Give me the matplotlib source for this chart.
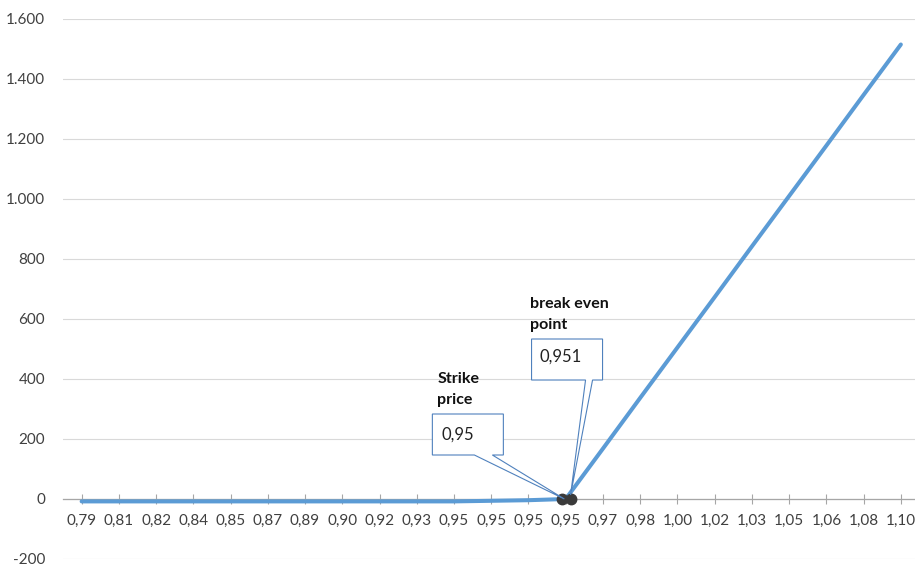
import matplotlib
matplotlib.use("Agg")
import matplotlib.pyplot as plt
import matplotlib.transforms as mtransforms
from matplotlib.patches import Polygon
from matplotlib.ticker import FuncFormatter

plt.rcParams['font.family'] = ['Lato', 'DejaVu Sans']

# ---- data ----
categories = ['0,79', '0,81', '0,82', '0,84', '0,85', '0,87', '0,89', '0,90',
              '0,92', '0,93', '0,95', '0,95', '0,95', '0,95', '0,97', '0,98',
              '1,00', '1,02', '1,03', '1,05', '1,06', '1,08', '1,10']
payoff = [-8, -8, -8, -8, -8, -8, -8, -8, -8, -8, -8, -6, -4, 0,
          168, 337, 505, 673, 842, 1010, 1178, 1347, 1515]
marker_x = [12.91, 13.13]
marker_y = [0, 0]
marker_values = ['0,95', '0,951']
marker_names = ['Strike\nprice', 'break even\npoint']
y_ticks = list(range(-200, 1601, 200))

W, H = 915, 564
fig = plt.figure(figsize=(W / 100, H / 100), dpi=100)
ax = fig.add_axes([63 / W, (H - 559) / H, (W - 63) / W, 540 / H])

xs = list(range(len(categories)))
ax.plot(xs, payoff, color='#5B9BD5', lw=2.9, solid_capstyle='round',
        solid_joinstyle='round', zorder=3)
ax.plot(marker_x, marker_y, 'o', color='#3A3A3A', ms=7.5, zorder=4)

ax.set_xlim(-0.5, 22.38)
ax.set_ylim(-200, 1600)
ax.set_xticks(xs)
ax.set_xticklabels(categories)
ax.set_yticks(y_ticks)
ax.yaxis.set_major_formatter(FuncFormatter(lambda v, p: f"{int(v):,}".replace(',', '.')))
ax.grid(axis='y', color='#D9D9D9', lw=0.8, zorder=0)
ax.set_axisbelow(True)
for s in ['top', 'right', 'left']:
    ax.spines[s].set_visible(False)
ax.spines['bottom'].set_position(('data', 0))
ax.spines['bottom'].set_color('#A6A6A6')
ax.spines['bottom'].set_linewidth(0.9)
ax.tick_params(axis='x', direction='inout', length=7, width=0.8, color='#A6A6A6',
               pad=7, labelsize=11, labelcolor='#404040')
ax.tick_params(axis='y', length=0, pad=13, labelsize=11, labelcolor='#404040')

# ---- callouts (pixel offsets relative to the data point) ----
def callout(xd, yd, box, base, tip, value, name, name_off, val_off):
    tr = mtransforms.ScaledTranslation(xd, yd, ax.transData)
    t = mtransforms.IdentityTransform() + tr
    x0, x1, y0, y1 = box
    verts = [(x0, y1), (x1, y1), (x1, y0), (base[1], y0), tip, (base[0], y0), (x0, y0)]
    poly = Polygon(verts, closed=True, facecolor='white', edgecolor='#4F81BD',
                   lw=0.8, transform=t, zorder=5)
    poly.set_clip_on(False)
    ax.add_patch(poly)
    ax.text(val_off[0], val_off[1], value, transform=t, fontsize=12,
            color='#222222', va='center', ha='left', zorder=6)
    ax.text(name_off[0], name_off[1], name, transform=t, fontsize=11.5,
            fontweight='bold', color='#111111', va='top', ha='left',
            linespacing=1.6, zorder=6)

callout(marker_x[0], marker_y[0], (-130, -59, 44, 85), (-88, -70), (2, 0),
        marker_values[0], marker_names[0], (-125, 127), (-121, 64))
callout(marker_x[1], marker_y[1], (-39, 32, 119, 160), (15, 22), (0, 4),
        marker_values[1], marker_names[1], (-41, 202), (-31, 142))

fig.savefig('out.png', dpi=100)
